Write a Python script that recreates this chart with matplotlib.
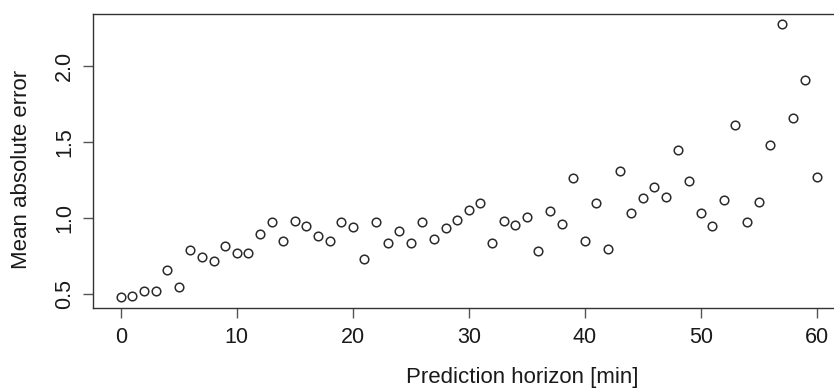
import numpy as np
import matplotlib
matplotlib.use("Agg")
import matplotlib.pyplot as plt

plt.rcParams['font.family'] = ['Liberation Sans', 'DejaVu Sans']

horizon = list(range(0, 61))
mae = [0.482, 0.489, 0.524, 0.522, 0.660, 0.550, 0.789, 0.745, 0.721, 0.816,
       0.772, 0.774, 0.899, 0.974, 0.853, 0.984, 0.947, 0.886, 0.851, 0.976,
       0.943, 0.734, 0.976, 0.836, 0.916, 0.836, 0.976, 0.862, 0.934, 0.989,
       1.055, 1.101, 0.836, 0.980, 0.954, 1.007, 0.785, 1.046, 0.965, 1.267,
       0.851, 1.101, 0.796, 1.313, 1.033, 1.136, 1.208, 1.140, 1.451, 1.245,
       1.033, 0.951, 1.120, 1.612, 0.976, 1.105, 1.480, 2.276, 1.658, 1.908,
       1.274]
xticks = [0, 10, 20, 30, 40, 50, 60]
yticks = [0.5, 1.0, 1.5, 2.0]

fig = plt.figure(figsize=(8.34, 3.9), dpi=100)
ax = fig.add_axes([93 / 834, 82 / 390, (844.5 - 93) / 834, (308 - 13.5) / 390])

ax.plot(horizon, mae, 'o', mfc='white', mec='#2b2b2b', mew=1.1, ms=6.2)

# R-style 4% padding on both axes
xr = max(horizon) - min(horizon)
yr = max(mae) - min(mae)
ax.set_xlim(min(horizon) - 0.04 * xr, max(horizon) + 0.04 * xr)
ax.set_ylim(min(mae) - 0.04 * yr, max(mae) + 0.04 * yr)

ax.set_xticks(xticks)
ax.set_yticks(yticks)
ax.set_yticklabels(['0.5', '1.0', '1.5', '2.0'], rotation=90, va='center')
ax.tick_params(direction='out', length=7, width=1, color='#555555',
               labelsize=15.5, labelcolor='#1a1a1a')
ax.tick_params(axis='x', pad=7)
ax.tick_params(axis='y', pad=6)
for s in ax.spines.values():
    s.set_color('#333333')
    s.set_linewidth(1)

fig.text(522 / 834, 1 - 377 / 390, 'Prediction horizon [min]', fontsize=16,
         color='#1a1a1a', ha='center', va='center')
fig.text(22 / 834, 1 - 169 / 390, 'Mean absolute error', fontsize=16,
         color='#1a1a1a', ha='center', va='center', rotation=90)

fig.savefig('out.png', dpi=100)
